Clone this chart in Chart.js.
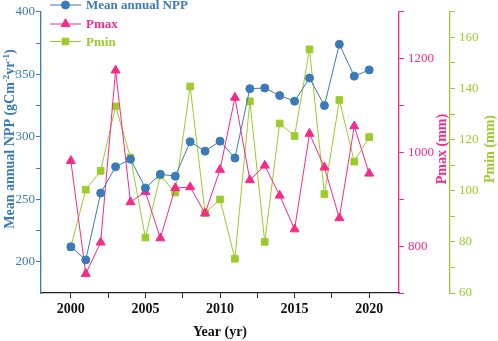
<!DOCTYPE html>
<html>
<head>
<meta charset="utf-8">
<script src="https://cdn.jsdelivr.net/npm/chart.js@4/dist/chart.umd.min.js"></script>
<style>
  html, body { margin: 0; padding: 0; background: #fff; }
  #wrap { width: 498px; height: 341px; }
</style>
</head>
<body>
<div id="wrap"><canvas id="nppChart" width="498" height="341"></canvas></div>
<script>
// data
const years = [2000, 2001, 2002, 2003, 2004, 2005, 2006, 2007, 2008, 2009, 2010,
               2011, 2012, 2013, 2014, 2015, 2016, 2017, 2018, 2019, 2020];
const npp  = [212, 201.5, 255, 276, 282, 259, 270, 268.5, 296, 288.5, 296.5,
              283, 338.5, 339, 333, 328.5, 347, 325, 374, 348.5, 353.5];
const pmax = [982, 741, 808, 1175, 894, 916, 817, 924, 926, 870, 963,
              1117, 941, 972, 908, 836, 1040, 968, 860, 1056, 955];
const pmin = [78, 100.4, 107.8, 133, 113, 81.7, 106, 99.3, 140.8, 91.3, 96.6,
              73.4, 135, 80, 126.3, 121.4, 155.3, 98.7, 135.5, 111.4, 121];

const xTicks    = [2000, 2002.5, 2005, 2007.5, 2010, 2012.5, 2015, 2017.5, 2020];
const nppTicks  = [200, 225, 250, 275, 300, 325, 350, 375, 400];
const pmaxTicks = [700, 800, 900, 1000, 1100, 1200, 1300];
const pminTicks = [60, 70, 80, 90, 100, 110, 120, 130, 140, 150, 160, 170];

const BLUE = '#3a7ab8';
const PINK = '#f72a8a';
const GREEN = '#9ccc2c';
const SERIF = "'Liberation Serif', 'Times New Roman', serif";

const toXY = vals => years.map((yr, i) => ({ x: yr, y: vals[i] }));
const setTicks = list => scale => { scale.ticks = list.map(v => ({ value: v })); };

const series = [
    { label: 'Mean annual NPP', data: npp,  color: BLUE,  style: 'circle',   r: 4,   axis: 'y'  },
    { label: 'Pmax',            data: pmax, color: PINK,  style: 'triangle', r: 5.2, axis: 'y1' },
    { label: 'Pmin',            data: pmin, color: GREEN, style: 'rect',     r: 4.7, axis: 'y2' }
];

// left title pieces: [text, size, raised]
const leftTitle = [['Mean annual NPP (gCm', 14, 0], ['-2', 9, 5], ['yr', 14, 0], ['-1', 9, 5], [')', 14, 0]];

// legend inside the plot + axis titles that read bottom to top
const extras = {
    id: 'extras',
    afterDraw(chart) {
        const ctx = chart.ctx;
        ctx.save();
        const rows = [5, 24, 41.5];
        series.forEach((s, i) => {
            const y = rows[i];
            ctx.strokeStyle = s.color;
            ctx.lineWidth = 1;
            ctx.beginPath();
            ctx.moveTo(50, y);
            ctx.lineTo(81, y);
            ctx.stroke();
            ctx.fillStyle = s.color;
            Chart.helpers.drawPoint(ctx, { pointStyle: s.style, radius: s.r, rotation: 0, borderWidth: 1 }, 65.5, y);
            ctx.font = 'bold 13px ' + SERIF;
            ctx.textAlign = 'left';
            ctx.textBaseline = 'middle';
            ctx.fillStyle = s.color;
            ctx.fillText(s.label, 86, y + 1);
        });

        const titles = [['Pmax (mm)', PINK, 442], ['Pmin (mm)', GREEN, 490]];
        titles.forEach(([txt, col, x]) => {
            ctx.save();
            ctx.translate(x, 149);
            ctx.rotate(-Math.PI / 2);
            ctx.font = 'bold 14px ' + SERIF;
            ctx.fillStyle = col;
            ctx.textAlign = 'center';
            ctx.textBaseline = 'middle';
            ctx.fillText(txt, 0, 0);
            ctx.restore();
        });

        // left title with small superscripts
        ctx.save();
        ctx.fillStyle = BLUE;
        ctx.textAlign = 'left';
        ctx.textBaseline = 'alphabetic';
        let total = 0;
        leftTitle.forEach(([t, sz]) => { ctx.font = 'bold ' + sz + 'px ' + SERIF; total += ctx.measureText(t).width; });
        ctx.translate(14, 139 + total / 2);
        ctx.rotate(-Math.PI / 2);
        let pos = 0;
        leftTitle.forEach(([t, sz, up]) => {
            ctx.font = 'bold ' + sz + 'px ' + SERIF;
            ctx.fillText(t, pos, -up);
            pos += ctx.measureText(t).width;
        });
        ctx.restore();
        ctx.restore();
    }
};

function yAxis(pos, color, min, max, ticks, labelEvery, width, pad) {
    return {
        type: 'linear',
        position: pos,
        min: min,
        max: max,
        afterBuildTicks: setTicks(ticks),
        afterFit: scale => { scale.width = width; },
        border: { display: true, color: color, width: 1.3 },
        grid: { drawOnChartArea: false, drawTicks: true, tickLength: 5, color: color },
        ticks: {
            color: color,
            padding: pad,
            font: { family: SERIF, size: 13 },
            callback: v => (v % labelEvery === 0 ? v : '')
        }
    };
}

const ctx = document.getElementById('nppChart').getContext('2d');
const chart = new Chart(ctx, {
    type: 'line',
    data: {
        datasets: series.map(s => ({
            label: s.label,
            data: toXY(s.data),
            yAxisID: s.axis,
            borderColor: s.color,
            backgroundColor: s.color,
            borderWidth: 1,
            pointStyle: s.style,
            pointRadius: s.r,
            pointBorderWidth: 1,
            pointBackgroundColor: s.color,
            pointBorderColor: s.color,
            tension: 0
        }))
    },
    options: {
        responsive: false,
        animation: false,
        devicePixelRatio: 1,
        layout: { padding: { top: 5, left: 0, right: 0, bottom: 0 } },
        plugins: { legend: { display: false }, tooltip: { enabled: false } },
        scales: {
            x: {
                type: 'linear',
                position: 'bottom',
                min: 1998,
                max: 2022,
                afterBuildTicks: setTicks(xTicks),
                afterFit: scale => { scale.height = 48; },
                border: { display: true, color: '#222', width: 1.3 },
                grid: { drawOnChartArea: false, drawTicks: true, tickLength: 5, color: '#222' },
                ticks: {
                    color: '#111',
                    padding: 3,
                    maxRotation: 0,
                    font: { family: SERIF, size: 14, weight: 'bold' },
                    callback: v => (v % 5 === 0 ? v : '')
                },
                title: {
                    display: true,
                    text: 'Year (yr)',
                    color: '#111',
                    padding: { top: 2, bottom: 0 },
                    font: { family: SERIF, size: 14, weight: 'bold' }
                }
            },
            y: yAxis('left', BLUE, 175, 400, nppTicks, 50, 41, 1),
            y1: yAxis('right', PINK, 700, 1300, pmaxTicks, 200, 51, 4),
            y2: yAxis('right', GREEN, 60, 170, pminTicks, 20, 48, 4)
        }
    },
    plugins: [extras]
});
</script>
</body>
</html>
